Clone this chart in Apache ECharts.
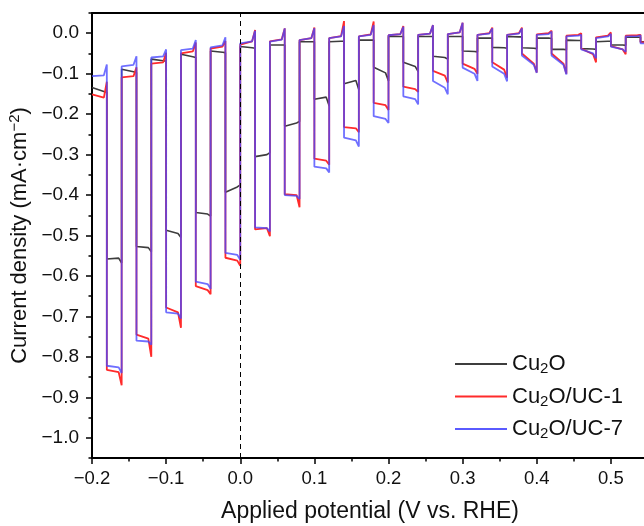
<!DOCTYPE html>
<html>
<head>
<meta charset="utf-8">
<script src="https://cdn.jsdelivr.net/npm/echarts@6/dist/echarts.min.js"></script>
<style>
  html, body { margin: 0; padding: 0; background: #fff; }
  #chart { width: 644px; height: 526px; }
</style>
</head>
<body>
<div id="chart"></div>
<script>
// chopped illumination LSV, potential in V vs RHE
const scanStart = -0.2
const lightOn = [-0.18, -0.14, -0.10, -0.06, -0.02, 0.02, 0.06, 0.10, 0.14, 0.18,
  0.22, 0.26, 0.30, 0.34, 0.38, 0.42, 0.46, 0.50, 0.54]
const lightOff = [-0.16, -0.12, -0.08, -0.04, 0.00, 0.04, 0.08, 0.12, 0.16, 0.20,
  0.24, 0.28, 0.32, 0.36, 0.40, 0.44, 0.48, 0.52, 0.56]

// each step: [start, just before end, end]  (mA cm-2)
const cu2oDark = [
  [-0.134, -0.144, -0.146], [-0.089, -0.095, -0.097], [-0.064, -0.068, -0.069],
  [-0.052, -0.058, -0.060], [-0.044, -0.047, -0.048], [-0.033, -0.036, -0.037],
  [-0.029, -0.029, -0.029], [-0.021, -0.021, -0.021], [-0.021, -0.020, -0.020],
  [-0.017, -0.017, -0.017], [-0.008, -0.008, -0.008], [-0.008, -0.008, -0.008],
  [-0.008, -0.008, -0.008], [-0.012, -0.012, -0.012], [-0.008, -0.009, -0.009],
  [-0.012, -0.012, -0.013], [-0.017, -0.018, -0.018], [-0.021, -0.020, -0.020],
  [-0.010, -0.010, -0.010]
]
const cu2oLight = [
  [-0.558, -0.556, -0.568], [-0.527, -0.530, -0.540], [-0.487, -0.495, -0.505],
  [-0.443, -0.447, -0.452], [-0.393, -0.380, -0.375], [-0.305, -0.300, -0.295],
  [-0.230, -0.222, -0.218], [-0.163, -0.158, -0.180], [-0.125, -0.117, -0.140],
  [-0.084, -0.098, -0.118], [-0.072, -0.082, -0.095], [-0.057, -0.060, -0.064],
  [-0.044, -0.045, -0.046], [-0.035, -0.036, -0.037], [-0.036, -0.037, -0.038],
  [-0.040, -0.040, -0.041], [-0.038, -0.039, -0.040], [-0.029, -0.029, -0.030],
  [-0.021, -0.021, -0.022]
]
const uc1Dark = [
  [-0.151, -0.159, -0.120], [-0.109, -0.106, -0.084], [-0.075, -0.072, -0.048],
  [-0.050, -0.045, -0.023], [-0.038, -0.033, -0.019], [-0.028, -0.020, 0.008],
  [-0.020, -0.015, 0.012], [-0.017, -0.012, 0.014], [-0.012, -0.007, 0.030],
  [-0.008, -0.003, 0.029], [-0.005, -0.002, 0.018], [-0.004, -0.001, 0.020],
  [-0.002, 0.002, 0.026], [-0.004, 0.000, 0.014], [-0.004, 0.000, 0.014],
  [-0.003, 0.000, 0.006], [-0.006, -0.004, 0.000], [-0.010, -0.006, 0.002],
  [-0.006, -0.005, -0.004]
]
const uc1Light = [
  [-0.832, -0.838, -0.870], [-0.745, -0.755, -0.800], [-0.678, -0.690, -0.728],
  [-0.625, -0.635, -0.645], [-0.555, -0.562, -0.575], [-0.485, -0.482, -0.502],
  [-0.398, -0.400, -0.430], [-0.310, -0.315, -0.325], [-0.232, -0.235, -0.245],
  [-0.172, -0.178, -0.190], [-0.132, -0.138, -0.145], [-0.093, -0.105, -0.122],
  [-0.075, -0.088, -0.100], [-0.072, -0.090, -0.110], [-0.050, -0.075, -0.097],
  [-0.050, -0.075, -0.100], [-0.038, -0.052, -0.072], [-0.032, -0.040, -0.052],
  [-0.022, -0.024, -0.026]
]
const uc7Dark = [
  [-0.106, -0.104, -0.077], [-0.082, -0.078, -0.057], [-0.060, -0.057, -0.040],
  [-0.042, -0.038, -0.017], [-0.035, -0.030, -0.010], [-0.025, -0.020, 0.006],
  [-0.021, -0.016, 0.012], [-0.017, -0.012, 0.012], [-0.012, -0.008, 0.018],
  [-0.008, -0.004, 0.020], [-0.005, -0.002, 0.016], [-0.004, -0.001, 0.020],
  [-0.002, 0.002, 0.026], [-0.004, -0.001, 0.012], [-0.004, -0.001, 0.012],
  [-0.004, -0.002, 0.004], [-0.008, -0.006, -0.004], [-0.012, -0.008, -0.002],
  [-0.008, -0.007, -0.005]
]
const uc7Light = [
  [-0.822, -0.826, -0.840], [-0.760, -0.762, -0.770], [-0.690, -0.693, -0.705],
  [-0.614, -0.620, -0.632], [-0.543, -0.548, -0.560], [-0.480, -0.482, -0.490],
  [-0.400, -0.402, -0.410], [-0.330, -0.334, -0.344], [-0.258, -0.265, -0.280],
  [-0.205, -0.212, -0.222], [-0.156, -0.163, -0.176], [-0.118, -0.135, -0.151],
  [-0.085, -0.100, -0.118], [-0.082, -0.100, -0.119], [-0.055, -0.078, -0.098],
  [-0.055, -0.078, -0.102], [-0.040, -0.050, -0.062], [-0.033, -0.040, -0.046],
  [-0.025, -0.026, -0.027]
]

const yMajor = [0, -0.1, -0.2, -0.3, -0.4, -0.5, -0.6, -0.7, -0.8, -0.9, -1.0]
const yMinor = [0.05, -0.05, -0.15, -0.25, -0.35, -0.45, -0.55, -0.65, -0.75, -0.85, -0.95, -1.05]

const FONT = '"Liberation Sans", Arial, sans-serif'

// turn the step values into a polyline (dark step, then light step, per cycle)
function buildTrace(dark, light) {
  const pts = []
  lightOn.forEach((on, i) => {
    const x0 = i === 0 ? scanStart : lightOff[i - 1]
    pts.push([x0, dark[i][0]], [x0 + (on - x0) * 0.8, dark[i][1]], [on, dark[i][2]])
    const off = lightOff[i]
    pts.push([on, light[i][0]], [on + (off - on) * 0.8, light[i][1]], [off, light[i][2]])
  })
  return pts
}

function fmt(v) {
  return v.toFixed(1).replace('-', '\u2212')
}

const chart = echarts.init(document.getElementById('chart'))

const option = {
  animation: false,
  backgroundColor: '#fff',
  grid: { left: 92, top: 13, bottom: 68, right: -41, outerBoundsMode: 'none', containLabel: false },
  xAxis: [{
    type: 'value',
    min: -0.2,
    max: 0.6,
    interval: 0.1,
    name: 'Applied potential (V vs. RHE)',
    nameLocation: 'middle',
    nameGap: 42,
    nameTextStyle: { fontFamily: FONT, fontSize: 23, color: '#111', padding: [0, 37, 0, 0] },
    axisLine: { onZero: false, lineStyle: { color: '#000', width: 2 } },
    axisTick: { length: 6, lineStyle: { width: 1.5, color: '#000' } },
    minorTick: { show: true, splitNumber: 2, length: 3.5, lineStyle: { width: 1.5, color: '#000' } },
    axisLabel: { fontFamily: FONT, fontSize: 18.5, color: '#111', margin: 11, formatter: fmt },
    splitLine: { show: false }
  }, {
    type: 'value',
    position: 'top',
    min: -0.2,
    max: 0.6,
    axisLine: { onZero: false, show: true, lineStyle: { color: '#000', width: 2 } },
    axisTick: { show: false },
    axisLabel: { show: false },
    splitLine: { show: false }
  }],
  yAxis: [{
    type: 'value',
    min: -1.05,
    max: 0.05,
    name: 'Current density (mA\u00b7cm{sup|\u22122})',
    nameLocation: 'middle',
    nameGap: 60,
    nameTextStyle: {
      fontFamily: FONT, fontSize: 22, color: '#111',
      rich: { sup: { fontFamily: FONT, fontSize: 15, color: '#111', padding: [0, 0, 10, 0] } }
    },
    axisLine: { onZero: false, lineStyle: { color: '#000', width: 2 } },
    axisTick: { customValues: yMajor, length: 6, lineStyle: { width: 1.5, color: '#000' } },
    axisLabel: { customValues: yMajor, fontFamily: FONT, fontSize: 19, color: '#111', margin: 13, formatter: fmt },
    splitLine: { show: false }
  }, {
    type: 'value',
    position: 'left',
    min: -1.05,
    max: 0.05,
    axisLine: { onZero: false, show: false },
    axisTick: { customValues: yMinor, length: 3.5, lineStyle: { width: 1.5, color: '#000' } },
    axisLabel: { show: false },
    splitLine: { show: false }
  }],
  legend: {
    orient: 'vertical',
    left: 450,
    top: 348,
    icon: 'rect',
    itemWidth: 52,
    itemHeight: 2,
    itemGap: 9,
    textStyle: {
      fontFamily: FONT, fontSize: 22, color: '#111',
      rich: { sub: { fontFamily: FONT, fontSize: 15, color: '#111', padding: [10, 0, 0, 0] } }
    },
    formatter: name => name.replace('2', '{sub|2}'),
    data: ['Cu2O', 'Cu2O/UC-1', 'Cu2O/UC-7']
  },
  series: [{
    name: 'Cu2O',
    type: 'line',
    showSymbol: false,
    color: '#3d3d3d',
    lineStyle: { width: 1.6, color: '#3d3d3d' },
    data: buildTrace(cu2oDark, cu2oLight),
    markLine: {
      silent: true,
      symbol: 'none',
      label: { show: false },
      lineStyle: { type: [5, 4], color: '#000', width: 1 },
      data: [{ xAxis: 0 }]
    }
  }, {
    name: 'Cu2O/UC-1',
    type: 'line',
    showSymbol: false,
    color: '#ff2b2b',
    lineStyle: { width: 1.8, color: '#ff2b2b' },
    data: buildTrace(uc1Dark, uc1Light)
  }, {
    name: 'Cu2O/UC-7',
    type: 'line',
    showSymbol: false,
    color: '#5a5aff',
    lineStyle: { width: 1.8, color: 'rgba(70, 70, 255, 0.78)' },
    data: buildTrace(uc7Dark, uc7Light)
  }]
}

chart.setOption(option)
</script>
</body>
</html>
